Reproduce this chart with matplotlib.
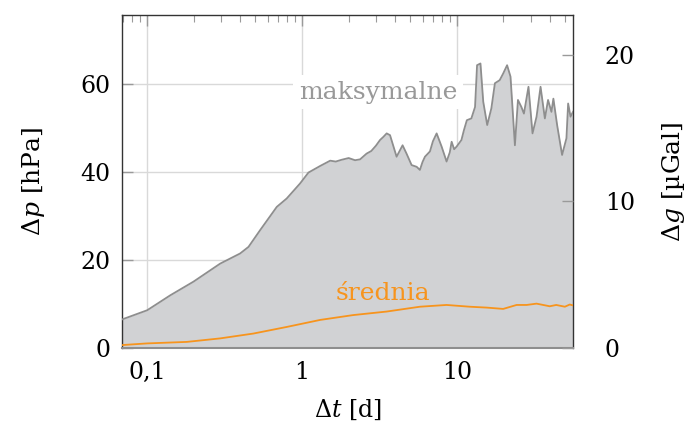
import matplotlib
matplotlib.use('Agg')
import matplotlib.pyplot as plt
from matplotlib.ticker import FixedLocator, FuncFormatter, LogLocator, NullFormatter

plt.rcParams['font.family'] = ['DejaVu Serif']
plt.rcParams['mathtext.fontset'] = 'dejavuserif'

# maximum pressure change vs. time lag
dt_max = [0.0687, 0.1, 0.141, 0.199, 0.296, 0.398, 0.451, 0.536, 0.687, 0.796,
          0.97, 1.10, 1.31, 1.52, 1.65, 1.8, 2.0, 2.2, 2.37, 2.61,
          2.8, 3.0, 3.19, 3.35, 3.52, 3.70, 4.08, 4.46, 4.73, 5.10,
          5.50, 5.77, 6.0, 6.22, 6.70, 7.0, 7.40, 7.97, 8.58, 9.0,
          9.25, 9.6, 9.96, 10.3, 10.7, 11.1, 11.6, 12.4, 13.1, 13.5,
          14.2, 14.8, 15.7, 16.7, 17.6, 18.9, 19.9, 21.1, 22.2, 23.7,
          24.8, 26.1, 27.1, 29.0, 30.8, 32.7, 34.7, 37.0, 38.8, 40.8,
          42.0, 44.4, 47.8, 51.0, 52.3, 54.2, 56.2]
dp_max = [6.5, 8.6, 12.0, 15.1, 19.2, 21.5, 23.0, 26.8, 32.1, 34.0,
          37.4, 39.9, 41.4, 42.6, 42.4, 42.8, 43.2, 42.7, 42.9, 44.2,
          44.8, 46.0, 47.3, 48.0, 48.8, 48.4, 43.5, 46.1, 44.2, 41.6,
          41.2, 40.5, 42.3, 43.5, 44.7, 47.0, 48.8, 45.8, 42.4, 44.5,
          46.9, 45.2, 45.8, 46.5, 47.3, 49.5, 51.8, 52.2, 54.8, 64.3,
          64.7, 56.0, 50.7, 54.5, 60.2, 60.9, 62.4, 64.3, 61.7, 46.1,
          56.4, 54.8, 53.3, 59.4, 48.8, 52.6, 59.4, 52.2, 56.4, 53.7,
          56.7, 50.7, 43.9, 47.7, 55.6, 52.6, 53.7]

# mean pressure change vs. time lag
dt_mean = [0.0687, 0.1, 0.180, 0.296, 0.485, 0.796, 1.31, 2.14, 3.52, 5.77,
           8.58, 12.1, 15.6, 19.9, 24.3, 28.2, 32.7, 39.8, 43.8, 49.8,
           53.6, 56.2]
dp_mean = [0.68, 1.06, 1.4, 2.2, 3.3, 4.8, 6.4, 7.5, 8.3, 9.4,
           9.8, 9.4, 9.2, 8.9, 9.8, 9.8, 10.1, 9.5, 9.8, 9.4,
           9.9, 9.7]

XTICKS = [0.1, 1, 10]
XTICK_LABELS = ['0,1', '1', '10']
YTICKS = [0, 20, 40, 60]
G_TICKS = [0, 10, 20]
ADMITTANCE = 0.3  # uGal per hPa

SPINE = '#333333'
TICK = '#9a9a9a'
GRID = '#d9d9d9'
FILL = '#d1d2d4'
LINE = '#8e8e8e'
ORANGE = '#f7941d'
FS = 17

fig = plt.figure(figsize=(6.89, 4.34), dpi=100)
ax = fig.add_axes([0.177, 0.198, 0.6546, 0.7673])
ax.set_xscale('log')
ax.set_xlim(dt_max[0], dt_max[-1])
ax.set_ylim(0, 75.7)
ax.set_axisbelow(True)

ax.fill_between(dt_max, dp_max, 0, color=FILL, lw=0, zorder=2)
ax.plot(dt_max, dp_max, color=LINE, lw=1.3, zorder=3)
ax.plot(dt_mean, dp_mean, color=ORANGE, lw=1.3, zorder=4)

ax.xaxis.set_major_locator(FixedLocator(XTICKS))
ax.xaxis.set_major_formatter(FuncFormatter(lambda v, p: XTICK_LABELS[XTICKS.index(v)] if v in XTICKS else ''))
ax.xaxis.set_minor_locator(LogLocator(base=10, subs=range(2, 10)))
ax.xaxis.set_minor_formatter(NullFormatter())
ax.set_yticks(YTICKS)

ax.grid(True, which='major', color=GRID, lw=1.0)
ax.tick_params(axis='both', which='major', direction='in', length=8, width=1,
               color=TICK, labelsize=FS, top=True, right=False, pad=9)
ax.tick_params(axis='x', which='minor', direction='in', length=5, width=0.8,
               color=TICK, top=True, bottom=True)
ax.tick_params(axis='y', pad=8)

for side in ['top', 'left', 'right']:
    ax.spines[side].set_color(SPINE)
    ax.spines[side].set_linewidth(1.0)
ax.spines['bottom'].set_color(LINE)
ax.spines['bottom'].set_linewidth(1.5)

ax.set_xlabel(r'$\Delta t$ [d]', fontsize=FS, labelpad=10)
ax.set_ylabel(r'$\Delta p$ [hPa]', fontsize=18, labelpad=24)

ax.text(3.09, 58.2, 'maksymalne', fontsize=18, color='#999999',
        ha='center', va='center', zorder=5,
        bbox=dict(facecolor='white', edgecolor='none', pad=4))
ax.text(3.34, 12.5, 'średnia', fontsize=18, color=ORANGE,
        ha='center', va='center', zorder=5)

# gravity axis
ax2 = ax.twinx()
ax2.set_ylim(0, 75.7 * ADMITTANCE)
ax2.set_yticks(G_TICKS)
ax2.tick_params(axis='y', direction='in', length=8, width=1, color=TICK,
                labelsize=FS, pad=23)
for side in ax2.spines:
    ax2.spines[side].set_visible(False)
ax2.set_ylabel(r'$\Delta g$ [µGal]', fontsize=18, labelpad=18)

fig.savefig('out.png', dpi=100)
